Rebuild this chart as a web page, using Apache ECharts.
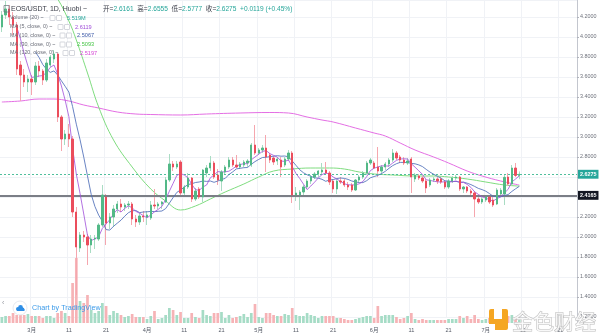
<!DOCTYPE html>
<html>
<head>
<meta charset="utf-8">
<script src="https://cdn.jsdelivr.net/npm/echarts@6/dist/echarts.min.js"></script>
<style>
  html, body { margin: 0; padding: 0; background: #ffffff; }
  #chart { width: 600px; height: 336px; }
</style>
</head>
<body>
<div id="chart"></div>
<script>
// EOS/USDT daily candles (Huobi), 2020-02-22 .. 2020-07-10
const firstDay = '2020-02-22';
const dayCount = 155; // time scale runs on past the last candle

const opens = [
  4.10, 4.22, 4.28, 4.20, 4.12, 3.72, 3.62, 3.55, 3.58, 3.55,
  3.71, 3.66, 3.57, 3.72, 3.78, 3.83, 3.20, 2.98, 3.03, 2.98,
  2.25, 1.89, 2.02, 2.00, 1.92, 1.98, 1.98, 2.12, 2.40, 2.14,
  2.20, 2.28, 2.33, 2.30, 2.32, 2.33, 2.18, 2.15, 2.21, 2.20,
  2.19, 2.32, 2.31, 2.33, 2.35, 2.57, 2.73, 2.70, 2.75, 2.44,
  2.50, 2.59, 2.38, 2.48, 2.40, 2.64, 2.69, 2.74, 2.62, 2.56,
  2.65, 2.70, 2.77, 2.72, 2.70, 2.72, 2.74, 2.72, 2.92, 2.84,
  2.87, 2.89, 2.82, 2.79, 2.76, 2.77, 2.72, 2.78, 2.84, 2.42,
  2.42, 2.45, 2.50, 2.56, 2.60, 2.63, 2.65, 2.67, 2.64, 2.56,
  2.48, 2.56, 2.56, 2.52, 2.52, 2.47, 2.57, 2.60, 2.64, 2.74,
  2.74, 2.70, 2.66, 2.70, 2.73, 2.77, 2.84, 2.80, 2.77, 2.74,
  2.78, 2.58, 2.61, 2.59, 2.56, 2.52, 2.57, 2.58, 2.58, 2.55,
  2.50, 2.56, 2.59, 2.60, 2.48, 2.50, 2.46, 2.44, 2.38, 2.35,
  2.37, 2.40, 2.37, 2.33, 2.43, 2.43, 2.60, 2.53, 2.69, 2.6161
];
const highs = [
  4.26, 4.36, 4.32, 4.25, 4.15, 3.76, 3.68, 3.62, 3.62, 3.75,
  3.76, 3.68, 3.78, 3.82, 3.87, 3.84, 3.22, 3.07, 3.13, 3.01,
  2.30, 2.05, 2.06, 2.03, 2.02, 2.02, 2.14, 2.52, 2.43, 2.24,
  2.32, 2.36, 2.38, 2.34, 2.36, 2.35, 2.22, 2.24, 2.26, 2.26,
  2.36, 2.48, 2.35, 2.36, 2.60, 2.83, 2.76, 2.76, 2.77, 2.52,
  2.64, 2.60, 2.49, 2.50, 2.68, 2.72, 2.81, 2.76, 2.68, 2.67,
  2.72, 2.80, 2.80, 2.82, 2.75, 2.77, 2.78, 2.94, 3.12, 2.89,
  2.92, 3.02, 2.84, 2.81, 2.80, 2.80, 2.80, 2.87, 2.86, 2.50,
  2.47, 2.52, 2.58, 2.62, 2.65, 2.67, 2.74, 2.75, 2.66, 2.58,
  2.58, 2.60, 2.58, 2.55, 2.54, 2.58, 2.62, 2.66, 2.76, 2.79,
  2.76, 2.90, 2.72, 2.75, 2.79, 2.88, 2.86, 2.82, 2.80, 2.79,
  2.80, 2.64, 2.63, 2.61, 2.58, 2.59, 2.60, 2.60, 2.60, 2.57,
  2.58, 2.61, 2.62, 2.61, 2.51, 2.51, 2.48, 2.46, 2.41, 2.40,
  2.42, 2.42, 2.40, 2.49, 2.49, 2.62, 2.64, 2.72, 2.74, 2.6555
];
const lows = [
  4.05, 4.18, 4.12, 4.02, 3.62, 3.36, 3.50, 3.45, 3.42, 3.52,
  3.60, 3.52, 3.55, 3.70, 3.74, 3.15, 2.86, 2.92, 2.90, 2.20,
  1.42, 1.85, 1.95, 1.72, 1.84, 1.88, 1.96, 2.10, 1.92, 2.08,
  2.10, 2.24, 2.25, 2.26, 2.28, 2.12, 2.10, 2.12, 2.15, 2.12,
  2.17, 2.28, 2.28, 2.28, 2.34, 2.55, 2.66, 2.68, 2.42, 2.40,
  2.48, 2.35, 2.36, 2.38, 2.35, 2.60, 2.66, 2.58, 2.52, 2.46,
  2.63, 2.68, 2.70, 2.69, 2.68, 2.70, 2.70, 2.70, 2.82, 2.82,
  2.84, 2.65, 2.74, 2.72, 2.72, 2.60, 2.70, 2.76, 2.34, 2.36,
  2.27, 2.42, 2.48, 2.53, 2.58, 2.60, 2.63, 2.62, 2.52, 2.44,
  2.43, 2.53, 2.50, 2.47, 2.45, 2.46, 2.55, 2.58, 2.62, 2.72,
  2.68, 2.60, 2.63, 2.67, 2.70, 2.75, 2.77, 2.74, 2.72, 2.72,
  2.44, 2.55, 2.57, 2.54, 2.44, 2.50, 2.55, 2.53, 2.53, 2.48,
  2.48, 2.54, 2.57, 2.46, 2.44, 2.44, 2.42, 2.20, 2.33, 2.33,
  2.35, 2.33, 2.30, 2.32, 2.40, 2.32, 2.51, 2.52, 2.60, 2.5777
];
const closes = [
  4.22, 4.28, 4.20, 4.12, 3.68, 3.62, 3.55, 3.58, 3.55, 3.71,
  3.66, 3.57, 3.74, 3.80, 3.83, 3.20, 2.98, 3.03, 2.98, 2.25,
  1.90, 2.02, 2.00, 1.92, 1.98, 1.99, 2.12, 2.42, 2.14, 2.20,
  2.28, 2.33, 2.30, 2.32, 2.33, 2.18, 2.15, 2.21, 2.20, 2.22,
  2.32, 2.31, 2.33, 2.35, 2.57, 2.73, 2.70, 2.73, 2.44, 2.50,
  2.59, 2.38, 2.46, 2.40, 2.67, 2.69, 2.74, 2.60, 2.57, 2.65,
  2.70, 2.77, 2.72, 2.70, 2.73, 2.75, 2.76, 2.92, 2.84, 2.87,
  2.89, 2.80, 2.77, 2.75, 2.78, 2.70, 2.78, 2.84, 2.42, 2.44,
  2.45, 2.50, 2.56, 2.60, 2.63, 2.66, 2.67, 2.64, 2.55, 2.48,
  2.56, 2.55, 2.52, 2.50, 2.47, 2.57, 2.60, 2.64, 2.74, 2.77,
  2.69, 2.66, 2.70, 2.73, 2.77, 2.84, 2.79, 2.77, 2.74, 2.76,
  2.60, 2.62, 2.59, 2.56, 2.49, 2.57, 2.58, 2.56, 2.55, 2.50,
  2.56, 2.59, 2.60, 2.48, 2.50, 2.46, 2.44, 2.38, 2.35, 2.38,
  2.40, 2.35, 2.32, 2.47, 2.4674, 2.5965, 2.53, 2.69, 2.6156, 2.6275
];
// daily volume, millions of EOS
const volumes = [
  6, 7, 7, 10, 8, 8, 8, 9, 7, 7,
  7, 5, 7, 7, 5, 10, 12, 10, 7, 40,
  65, 22, 20, 28, 13, 10, 12, 20, 17, 8,
  12, 10, 8, 6, 7, 9, 6, 6, 6, 4,
  7, 12, 4, 5, 8, 15, 13, 8, 11, 5,
  5, 10, 6, 5, 13, 8, 7, 10, 10, 11,
  5, 8, 5, 6, 7, 9, 6, 10, 19, 6,
  5, 10, 10, 8, 7, 7, 9, 8, 15, 8,
  7, 7, 10, 8, 7, 5, 7, 7, 7, 7,
  5, 5, 4, 3, 3, 4, 5, 6, 7, 7,
  5, 17, 7, 8, 8, 8, 6, 4, 5, 7,
  10, 4, 3, 4, 3, 3, 3, 3, 3, 3,
  4, 4, 4, 7, 5, 7, 4, 8, 4, 3,
  4, 5, 5, 6, 5, 10, 7, 8, 6, 4.38
];
// longer moving averages (their windows reach back before the first candle)
const ma30Days = [8, 12, 15, 18, 20, 23, 26, 30, 35, 40, 44, 48, 52, 56, 60, 65, 69, 73, 78, 83, 88, 92, 96, 100, 105, 111, 116, 120, 125, 130, 135, 139];
const ma30Values = [4.70, 4.52, 4.38, 4.16, 3.97, 3.64, 3.30, 2.97, 2.70, 2.48, 2.36, 2.27, 2.31, 2.38, 2.45, 2.53, 2.60, 2.66, 2.68, 2.69, 2.69, 2.68, 2.65, 2.63, 2.62, 2.61, 2.61, 2.60, 2.58, 2.55, 2.52, 2.5093];
const ma120Days = [0, 5, 10, 14, 18, 22, 26, 31, 36, 40, 48, 55, 64, 72, 77, 82, 86, 89, 95, 100, 103, 107, 111, 116, 120, 125, 129, 134, 139];
const ma120Values = [3.35, 3.36, 3.38, 3.38, 3.36, 3.32, 3.29, 3.25, 3.23, 3.225, 3.22, 3.23, 3.24, 3.245, 3.24, 3.20, 3.17, 3.15, 3.09, 3.04, 3.01, 2.94, 2.87, 2.80, 2.74, 2.66, 2.61, 2.56, 2.5197];

const levelLine = 2.4165;          // drawn horizontal level
const priceMin = 1.2, priceMax = 4.37, priceStep = 0.2;
const volumeMax = 100;

const UP = '#53b987', DOWN = '#eb4d5c';
const UP_WICK = '#a9dcc3', DOWN_WICK = '#f5a6ae';
const UP_VOL = '#a6dcc6', DOWN_VOL = '#f6b3b6';
const C_MA5 = '#a04fd9', C_MA10 = '#4f6fb8', C_MA30 = '#7fdc7f', C_MA120 = '#e46fe4';
const FONT = '"Liberation Sans", "Noto Sans CJK SC", Arial, sans-serif';

// calendar categories
const categories = [];
{
  const t0 = Date.parse(firstDay + 'T00:00:00Z');
  for (let i = 0; i < dayCount; i++) {
    categories.push(new Date(t0 + i * 86400000).toISOString().slice(0, 10));
  }
}
const dayOf = v => +String(v).slice(8, 10);
const isMark = (idx, v) => dayOf(v) === 1 || dayOf(v) === 11 || dayOf(v) === 21;
const dateLabel = v => dayOf(v) === 1 ? (+String(v).slice(5, 7)) + '月' : String(dayOf(v));

function movingAverage(src, n) {
  return src.map((_, i) => {
    if (i < n - 1) return '-';
    let s = 0;
    for (let k = i - n + 1; k <= i; k++) s += src[k];
    return +(s / n).toFixed(5);
  });
}
const ma5 = movingAverage(closes, 5);
const ma10 = movingAverage(closes, 10);
const volAvg20 = volumes.slice(-20).reduce((a, b) => a + b, 0) / 20;

const wickData = opens.map((o, i) => [o, closes[i], lows[i], highs[i]]);
const bodyData = opens.map((o, i) => [o, closes[i], Math.min(o, closes[i]), Math.max(o, closes[i])]);
const volData = volumes.map((v, i) => ({
  value: v,
  itemStyle: { color: closes[i] >= opens[i] ? UP_VOL : DOWN_VOL }
}));
const ma30Data = ma30Days.map((d, k) => [categories[d], ma30Values[k]]);
const ma120Data = ma120Days.map((d, k) => [categories[d], ma120Values[k]]);

const last = closes.length - 1;
const lastClose = closes[last];
const prevClose = closes[last - 1];
const change = lastClose - prevClose;

// ---------- overlay texts (legend, header, branding) ----------
function txt(x, y, text, fill, size, extra) {
  return Object.assign({
    type: 'text', z: 100, silent: true,
    style: { x, y, text, fill, font: (size || 6) + 'px ' + FONT, verticalAlign: 'middle', align: 'left' }
  }, extra || {});
}
function iconBox(x, y) {
  return {
    type: 'rect', z: 100, silent: true,
    shape: { x, y: y - 2.5, width: 5, height: 5, r: 0.5 },
    style: { fill: '#ffffff', stroke: '#b8bcc6', lineWidth: 0.6 }
  };
}
const legendRows = [
  { y: 18,   label: 'Volume (20) ~',        value: volAvg20.toFixed(3) + 'M', color: '#26a69a', vx: 67 },
  { y: 27,   label: 'MA (5, close, 0) ~',   value: ma5[last].toFixed(4),      color: C_MA5,     vx: 75 },
  { y: 35.5, label: 'MA (10, close, 0) ~',  value: ma10[last].toFixed(4),     color: '#3d5aa8', vx: 77 },
  { y: 44.5, label: 'MA (30, close, 0) ~',  value: ma30Values[ma30Values.length - 1].toFixed(4), color: '#47c447', vx: 77 },
  { y: 53,   label: 'MA (120, close, 0) ~', value: ma120Values[ma120Values.length - 1].toFixed(4), color: '#d546d5', vx: 80 }
];
const graphics = [];
legendRows.forEach(r => {
  graphics.push(txt(10, r.y, r.label, '#6a6d78', 5.4));
  graphics.push(iconBox(r.vx - 17, r.y));
  graphics.push(iconBox(r.vx - 10.5, r.y));
  graphics.push(txt(r.vx, r.y, r.value, r.color, 5.6));
});
// header
graphics.push({
  type: 'rect', z: 100, silent: true,
  shape: { x: 4, y: 5.5, width: 5, height: 6.5 },
  style: { fill: 'none', stroke: '#6a6d78', lineWidth: 0.7 }
});
graphics.push(txt(11, 9, 'EOS/USDT, 1D, Huobi ~', '#3a3d48', 7));
const hv = v => v.toFixed(4);
graphics.push({
  type: 'text', z: 100, silent: true,
  style: {
    x: 103, y: 9, verticalAlign: 'middle',
    text: '{k|开=}{v|' + hv(opens[last]) + '}  {k|高=}{v|' + hv(highs[last]) + '}  {k|低=}{v|' + hv(lows[last]) +
          '}  {k|收=}{v|' + hv(lastClose) + '}  {v|' + (change >= 0 ? '+' : '') + change.toFixed(4) +
          ' (' + (change >= 0 ? '+' : '') + (change / prevClose * 100).toFixed(2) + '%)}',
    font: '6.6px ' + FONT,
    rich: {
      k: { fill: '#3a3d48', font: '6.6px ' + FONT },
      v: { fill: '#26a69a', font: '6.6px ' + FONT }
    }
  }
});
// TradingView badge
graphics.push(txt(2, 303, '‹', '#9598a1', 7));
graphics.push({
  type: 'circle', z: 100, silent: true,
  shape: { cx: 20, cy: 308, r: 7 },
  style: { fill: '#ffffff', stroke: '#e0e3eb', lineWidth: 0.8 }
});
graphics.push({
  type: 'group', z: 101, silent: true,
  children: [
    { type: 'circle', z: 101, shape: { cx: 18, cy: 309, r: 2 }, style: { fill: '#2e8ee6' } },
    { type: 'circle', z: 101, shape: { cx: 20.5, cy: 307.5, r: 2.4 }, style: { fill: '#2e8ee6' } },
    { type: 'circle', z: 101, shape: { cx: 22.7, cy: 309.3, r: 1.7 }, style: { fill: '#2e8ee6' } },
    { type: 'rect', z: 101, shape: { x: 17, y: 309, width: 7.5, height: 2 }, style: { fill: '#2e8ee6' } }
  ]
});
graphics.push(txt(32, 308, 'Chart by TradingView', '#3d9be9', 7.2));
// site watermark
graphics.push({
  type: 'group', z: 102, silent: true,
  children: [
    { type: 'rect', z: 102, shape: { x: 489, y: 309, width: 19, height: 21, r: 2 }, style: { fill: '#f5a623' } },
    { type: 'rect', z: 103, shape: { x: 494, y: 309, width: 8, height: 10 }, style: { fill: '#ffffff' } },
    { type: 'rect', z: 103, shape: { x: 489, y: 324, width: 6, height: 6 }, style: { fill: '#ffffff' } }
  ]
});
graphics.push({
  type: 'text', z: 102, silent: true,
  style: {
    x: 512, y: 321, text: '金色财经', verticalAlign: 'middle',
    font: '21px "Noto Sans CJK SC", sans-serif',
    fill: 'rgba(255,255,255,0.8)', stroke: '#bdbdbd', lineWidth: 1
  }
});

// ---------- chart ----------
const priceLabel = (bg) => ({
  show: true, position: 'end', distance: 1,
  backgroundColor: bg, color: '#ffffff', fontSize: 5.4, fontWeight: 'bold',
  fontFamily: FONT, padding: [2, 2, 1.5, 2]
});

const chart = echarts.init(document.getElementById('chart'), null, { renderer: 'canvas' });
chart.setOption({
  animation: false,
  backgroundColor: '#ffffff',
  grid: [
    { left: 0, right: 23, top: 0, height: 317, containLabel: false },
    { left: 0, right: 23, top: 223, height: 100, containLabel: false }
  ],
  xAxis: [
    {
      type: 'category', gridIndex: 0, data: categories, boundaryGap: true,
      axisLine: { show: false }, axisTick: { show: false }, axisLabel: { show: false },
      splitLine: { show: true, interval: isMark, lineStyle: { color: '#f0f2f6', width: 1 } }
    },
    {
      type: 'category', gridIndex: 1, data: categories, boundaryGap: true,
      axisLine: { show: false },
      axisTick: { show: false },
      axisLabel: {
        show: true, interval: isMark, formatter: dateLabel, margin: 5,
        color: '#555a66', fontSize: 5.6, fontFamily: FONT
      },
      splitLine: { show: false }
    }
  ],
  yAxis: [
    {
      type: 'value', gridIndex: 0, position: 'right', min: priceMin, max: priceMax, interval: priceStep,
      axisLine: { show: true, lineStyle: { color: '#c3c6ce', width: 1 } },
      axisTick: { show: true, length: 2, lineStyle: { color: '#b0b3bb' } },
      axisLabel: {
        show: true, margin: 3, color: '#6d707a', fontSize: 5.4, fontFamily: FONT,
        showMaxLabel: false,
        formatter: v => v.toFixed(4)
      },
      splitLine: { show: true, lineStyle: { color: '#f0f2f6', width: 1 } }
    },
    {
      type: 'value', gridIndex: 1, position: 'right', min: 0, max: volumeMax,
      axisLine: { show: true, lineStyle: { color: '#c3c6ce', width: 1 } },
      axisTick: { show: false }, axisLabel: { show: false }, splitLine: { show: false }
    }
  ],
  series: [
    {
      name: 'Volume', type: 'bar', xAxisIndex: 1, yAxisIndex: 1,
      data: volData, barWidth: 2.7, z: 1, silent: true
    },
    {
      name: 'MA120', type: 'line', xAxisIndex: 0, yAxisIndex: 0, data: ma120Data,
      smooth: 0.4, showSymbol: false, lineStyle: { color: C_MA120, width: 1 }, z: 3, silent: true
    },
    {
      name: 'MA30', type: 'line', xAxisIndex: 0, yAxisIndex: 0, data: ma30Data,
      smooth: 0.4, showSymbol: false, lineStyle: { color: C_MA30, width: 1 }, z: 3, silent: true
    },
    {
      name: 'wicks', type: 'candlestick', xAxisIndex: 0, yAxisIndex: 0, data: wickData,
      barWidth: 0.6, z: 4, silent: true,
      itemStyle: { color: UP_WICK, color0: DOWN_WICK, borderColor: UP_WICK, borderColor0: DOWN_WICK, borderWidth: 1 }
    },
    {
      name: 'MA10', type: 'line', xAxisIndex: 0, yAxisIndex: 0, data: ma10,
      showSymbol: false, lineStyle: { color: C_MA10, width: 1, opacity: 0.85 }, z: 5, silent: true
    },
    {
      name: 'MA5', type: 'line', xAxisIndex: 0, yAxisIndex: 0, data: ma5,
      showSymbol: false, lineStyle: { color: C_MA5, width: 1, opacity: 0.8 }, z: 5, silent: true
    },
    {
      name: 'bodies', type: 'candlestick', xAxisIndex: 0, yAxisIndex: 0, data: bodyData,
      barWidth: 1.8, z: 6, silent: true,
      itemStyle: { color: UP, color0: DOWN, borderColor: UP, borderColor0: DOWN, borderWidth: 1 },
      markLine: {
        silent: true, symbol: ['none', 'none'], animation: false, precision: 4,
        data: [
          {
            yAxis: levelLine,
            lineStyle: { color: '#7b7e86', width: 2, type: 'solid' },
            label: Object.assign(priceLabel('#131722'), { formatter: levelLine.toFixed(4) })
          },
          {
            yAxis: lastClose,
            lineStyle: { color: '#4fbf9c', width: 1, type: [2, 2] },
            label: Object.assign(priceLabel('#26a69a'), { formatter: lastClose.toFixed(4) })
          }
        ]
      }
    }
  ],
  graphic: graphics
});
</script>
</body>
</html>
